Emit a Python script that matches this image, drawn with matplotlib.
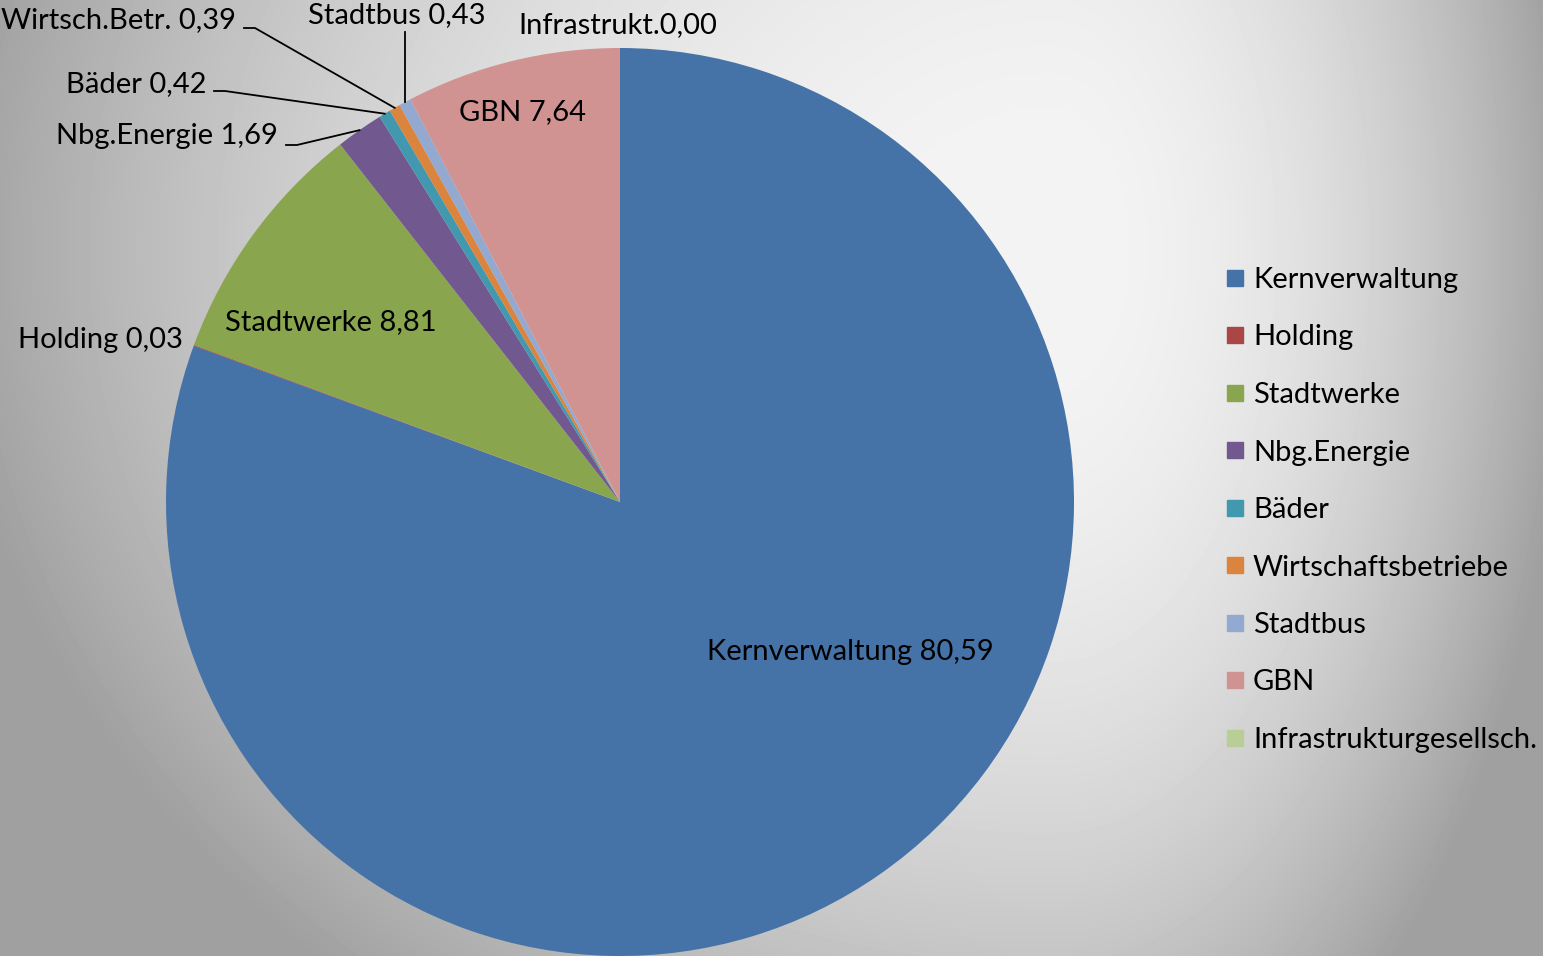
import numpy as np
import matplotlib
matplotlib.use("Agg")
import matplotlib.pyplot as plt
from matplotlib.lines import Line2D

plt.rcParams['font.family'] = ['Lato', 'DejaVu Sans']

#####################################################################
# Data

names = ['Kernverwaltung', 'Holding', 'Stadtwerke', 'Nbg.Energie', 'Bäder',
         'Wirtschaftsbetriebe', 'Stadtbus', 'GBN', 'Infrastrukturgesellsch.']
short_names = ['Kernverwaltung', 'Holding', 'Stadtwerke', 'Nbg.Energie', 'Bäder',
               'Wirtsch.Betr.', 'Stadtbus', 'GBN', 'Infrastrukt.']
values = [80.59, 0.03, 8.81, 1.69, 0.42, 0.39, 0.43, 7.64, 0.00]
colors = ['#4573A7', '#AA4643', '#89A54E', '#71588F', '#4198AF',
          '#DB843D', '#93A9CF', '#D19392', '#B9CD96']

W, H = 1543, 956
fig = plt.figure(figsize=(W / 100, H / 100), dpi=100)

#####################################################################
# Background gradient (light spot right of the pie, grey towards the edges)

bg = fig.add_axes([0, 0, 1, 1])
yy, xx = np.mgrid[0:H, 0:W]
cx, cy = 1050.0, 250.0
sx = np.where(xx < cx, cx, W - cx)
dx = (xx - cx) / sx
dy = (yy - cy) / 900.0
t = dx**2 + dy**2
val = np.clip(244 - 76 * t, 160, 245) / 255.0
bg.imshow(val, cmap='gray', vmin=0, vmax=1, aspect='auto', interpolation='bilinear')
bg.set_axis_off()

#####################################################################
# Pie

cxp, cyp, r = 620, 502, 454
ax = fig.add_axes([(cxp - r) / W, (H - cyp - r) / H, 2 * r / W, 2 * r / H])
ax.set_facecolor('none')
wedges, _ = ax.pie(values, colors=colors, startangle=90, counterclock=False,
                   radius=1.0, wedgeprops=dict(linewidth=0))
ax.set_xlim(-1, 1)
ax.set_ylim(-1, 1)
ax.set_aspect('auto')
ax.set_axis_off()


def px(x, y):
    # pixel -> pie data coordinates
    return (x - cxp) / r, (cyp - y) / r


def lab(i):
    return '%s %s' % (short_names[i], ('%.2f' % values[i]).replace('.', ','))


fs = 21
# labels inside the slices
for i, (x, y) in zip([0, 2, 7], [(850, 652), (331, 322), (522, 112)]):
    ax.text(*px(x, y), lab(i), ha='center', va='center', fontsize=fs)

# outside labels without leader lines
ax.text(*px(100, 340), lab(1), ha='center', va='center', fontsize=fs)
ax.text(*px(618, 25), short_names[8] + ('%.2f' % values[8]).replace('.', ','),
        ha='center', va='center', fontsize=fs)

# outside labels with leader lines
for i, tx, ty, ly in [(3, 278, 136, 145), (4, 206, 84, 91), (5, 236, 20, 28)]:
    ax.text(*px(tx, ty), lab(i), ha='right', va='center', fontsize=fs)
    w = wedges[i]
    mid = np.deg2rad((w.theta1 + w.theta2) / 2)
    ex, ey = np.cos(mid), np.sin(mid)
    p0 = px(tx + 8, ly)
    p1 = px(tx + 19, ly)
    ax.plot([p0[0], p1[0], ex], [p0[1], p1[1], ey], color='black', lw=1.3,
            clip_on=False)

# Stadtbus label with vertical leader
ax.text(*px(397, 15), lab(6), ha='center', va='center', fontsize=fs)
w = wedges[6]
mid = np.deg2rad((w.theta1 + w.theta2) / 2)
p0 = px(405, 32)
ax.plot([p0[0], p0[0]], [p0[1], np.sin(mid) * 1.0], color='black', lw=1.3,
        clip_on=False)

#####################################################################
# Legend

handles = [Line2D([], [], marker='s', linestyle='none', markersize=12,
                  markerfacecolor=c, markeredgecolor=c) for c in colors]
fig.legend(handles, names, loc='center left', bbox_to_anchor=(1215 / W, 1 - 510 / H),
           frameon=False, fontsize=fs, handlelength=0.6, handletextpad=0.3,
           labelspacing=1.08, borderaxespad=0)

plt.savefig('out.png', dpi=100)
